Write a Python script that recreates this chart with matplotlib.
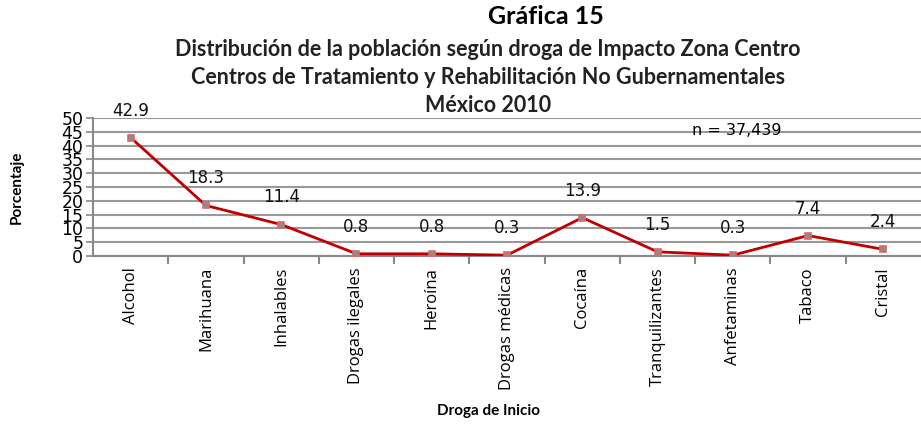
import matplotlib
matplotlib.use('Agg')
from matplotlib import pyplot as plt

categories = ['Alcohol', 'Marihuana', 'Inhalables', 'Drogas ilegales', 'Heroína',
              'Drogas médicas', 'Cocaína', 'Tranquilizantes', 'Anfetaminas',
              'Tabaco', 'Cristal']
values = [42.9, 18.3, 11.4, 0.8, 0.8, 0.3, 13.9, 1.5, 0.3, 7.4, 2.4]
yticks = list(range(0, 55, 5))

fig = plt.figure(figsize=(9.21, 4.28), dpi=100)
ax = fig.add_axes([93 / 921, 1 - 256 / 428, 1 - 93 / 921, (256 - 118) / 428])

x = list(range(len(categories)))
ax.plot(x, values, color='#C00000', linewidth=2, marker='s', markersize=5,
        markerfacecolor='#8C8C8C', markeredgecolor='#D9686A', markeredgewidth=1.2,
        zorder=3)

for xi, v in zip(x, values):
    ax.annotate(f'{v:.1f}', (xi, v), xytext=(0, 13), textcoords='offset points',
                ha='center', va='bottom', fontsize=12, color='#111111')

ax.set_xlim(-0.5, len(categories) - 0.5)
ax.set_ylim(0, 50)
ax.set_yticks(yticks)
ax.set_yticklabels([str(t) for t in yticks], fontsize=12.5)
ax.yaxis.set_tick_params(length=5, width=1.2, color='#888888', pad=2)
ax.set_xticks(x)
ax.set_xticklabels(categories, rotation=90, fontsize=12, family='Open Sans')
ax.xaxis.set_tick_params(length=0, pad=8)
ax.set_xticks([i + 0.5 for i in x[:-1]], minor=True)
ax.xaxis.set_tick_params(which='minor', length=6, width=1.5, color='#888888')
ax.grid(axis='y', color='#999999', linewidth=1.5)
ax.set_axisbelow(True)
for side in ['top', 'right']:
    ax.spines[side].set_visible(False)
ax.spines['left'].set_color('#888888')
ax.spines['left'].set_linewidth(1.5)
ax.spines['bottom'].set_color('#888888')
ax.spines['bottom'].set_linewidth(1.5)

ax.text((737 - 93) / 828, 0.91, 'n = 37,439', transform=ax.transAxes,
        fontsize=11.5, ha='center', va='center')

fig.text(546 / 921, 1 - 17 / 428, 'Gráfica 15', fontsize=18, fontweight='bold',
         family='Lato', ha='center', va='center')
subtitle = ['Distribución de la población según droga de Impacto Zona Centro',
            'Centros de Tratamiento y Rehabilitación No Gubernamentales',
            'México 2010']
for i, line in enumerate(subtitle):
    fig.text(488 / 921, 1 - (50 + 28 * i) / 428, line, fontsize=15.5,
             fontweight='bold', family='Lato', ha='center', va='center',
             color='#222222')

fig.text(17 / 921, 1 - 187 / 428, 'Porcentaje', fontsize=11, fontweight='bold',
         family='Lato', rotation=90, ha='center', va='center')
fig.text(488 / 921, 1 - 411 / 428, 'Droga de Inicio', fontsize=11,
         fontweight='bold', family='Lato', ha='center', va='center')

fig.savefig('out.png', dpi=100)
